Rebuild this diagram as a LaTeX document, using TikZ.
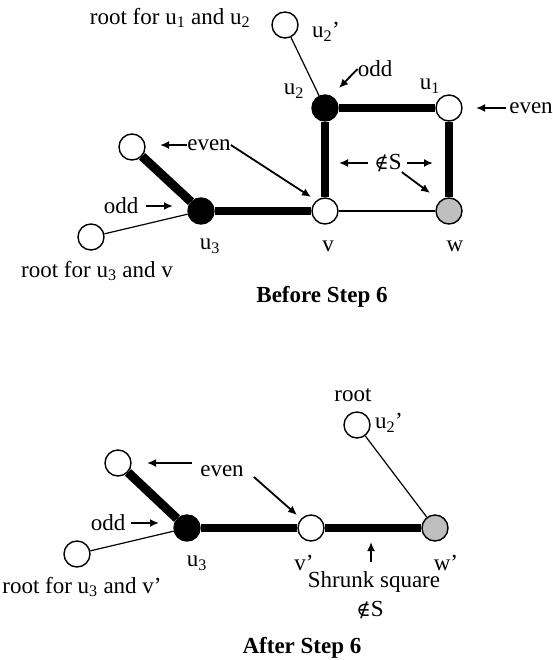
\documentclass[tikz,border=0pt]{standalone}
\usepackage{fontspec}
\setmainfont{Liberation Serif}
\newfontfamily\symfont[Scale=0.85]{DejaVu Serif}
\newcommand{\nots}{{\symfont ∉}S}
\usetikzlibrary{arrows.meta}

\begin{document}
\begin{tikzpicture}[
  x=1pt, y=-1pt,
  font=\fontsize{23}{28}\selectfont,
  vtx/.style={circle, draw=black, line width=1.4pt, minimum size=26pt, inner sep=0pt, fill=white},
  oddv/.style={vtx, fill=black},
  grayv/.style={vtx, fill=black!25},
  lbl/.style={inner sep=0pt},
  steptitle/.style={lbl, font=\fontsize{23}{28}\selectfont\bfseries},
  heavy/.style={line width=8pt},
  light/.style={line width=1.2pt},
  ptr/.style={-{Latex[length=9pt,width=8pt]}, line width=1.8pt}
]
\useasboundingbox (0,0) rectangle (553,660);

% before step 6
\node[vtx]   (rA) at (285, 25) {};
\node[oddv]  (u2) at (325,108) {};
\node[vtx]   (u1) at (449,108) {};
\node[vtx]   (v)  at (325,211) {};
\node[grayv] (w)  at (449,211) {};
\node[oddv]  (u3) at (201,211) {};
\node[vtx]   (eA) at (132,147) {};
\node[vtx]   (rB) at ( 91,237) {};

\draw[light] (rA) -- (u2);
\draw[heavy] (u2) -- (u1);
\draw[heavy] (u2) -- (v);
\draw[heavy] (u1) -- (w);
\draw[light] (v) -- (w);
\draw[heavy] (u3) -- (v);
\draw[heavy, line width=9pt] (eA) -- (u3);
\draw[light] (rB) -- (u3);

\node[lbl] (trA)  at (170, 18) {root for u\textsubscript{1} and u\textsubscript{2}};
\node[lbl] (lu2p) at (326, 32) {u\textsubscript{2}’};
\node[lbl] (lu2)  at (294, 91) {u\textsubscript{2}};
\node[lbl] (lu1)  at (430, 86) {u\textsubscript{1}};
\node[lbl] (oddA) at (375, 69) {odd};
\node[lbl] (evA)  at (531,108) {even};
\node[lbl] (evB)  at (209,145) {even};
\node[lbl] (oddB) at (121,206) {odd};
\node[lbl] (nS)   at (388,163) {\nots};
\node[lbl] (lu3)  at (210,246) {u\textsubscript{3}};
\node[lbl] (lv)   at (328,246) {v};
\node[lbl] (lw)   at (455,246) {w};
\node[lbl] (trB)  at ( 97,271) {root for u\textsubscript{3} and v};
\node[steptitle] (capA) at (322,297) {Before Step 6};

\coordinate (tOddA) at (339, 88);
\coordinate (tEvA)  at (476,108);
\coordinate (tEvB1) at (160,145);
\coordinate (tEvB2) at (311,197);
\coordinate (tOddB) at (173,206);
\coordinate (tSl)   at (339,163);
\coordinate (tSr)   at (433,163);
\coordinate (tSd)   at (430,193);

\draw[ptr] (oddA.west) -- (tOddA);
\draw[ptr] ([xshift=-3pt]evA.west) -- (tEvA);
\draw[ptr] (evB.west) -- (tEvB1);
\draw[ptr] (evB.east) -- (tEvB2);
\draw[ptr] ([xshift=8pt]oddB.east) -- (tOddB);
\draw[ptr] ([xshift=-6pt]nS.west) -- (tSl);
\draw[ptr] ([xshift=5pt]nS.east) -- (tSr);
\draw[ptr] (nS.south east) -- (tSd);

% after step 6
\node[vtx]   (rC)  at (357,425) {};
\node[oddv]  (u3b) at (187,528) {};
\node[vtx]   (vb)  at (311,528) {};
\node[grayv] (wb)  at (435,528) {};
\node[vtx]   (eC)  at (118,463) {};
\node[vtx]   (rD)  at ( 77,554) {};

\draw[light] (rC) -- (wb);
\draw[heavy] (u3b) -- (vb);
\draw[heavy] (vb) -- (wb);
\draw[heavy, line width=9pt] (eC) -- (u3b);
\draw[light] (rD) -- (u3b);

\node[lbl] (trC)  at (353,395) {root};
\node[lbl] (lu2b) at (389,423) {u\textsubscript{2}’};
\node[lbl] (evC)  at (222,471) {even};
\node[lbl] (oddC) at (108,523) {odd};
\node[lbl] (lu3b) at (197,563) {u\textsubscript{3}};
\node[lbl] (lvb)  at (304,563) {v’};
\node[lbl] (lwb)  at (446,563) {w’};
\node[lbl] (shrA) at (374,582) {Shrunk square};
\node[lbl] (shrB) at (370,610) {\nots};
\node[lbl] (trD)  at ( 82,587) {root for u\textsubscript{3} and v’};
\node[steptitle] (capB) at (302,648) {After Step 6};

\coordinate (tEvC1) at (147,463);
\coordinate (tEvC2) at (297,515);
\coordinate (tOddC) at (159,523);
\coordinate (sShr)  at (371,562);
\coordinate (tShr)  at (371,542);

\draw[ptr] ([shift={(-8,-8)}]evC.west) -- (tEvC1);
\draw[ptr] ([shift={(10,6)}]evC.east) -- (tEvC2);
\draw[ptr] ([xshift=6pt]oddC.east) -- (tOddC);
\draw[ptr] (sShr) -- (tShr);
\end{tikzpicture}
\end{document}
